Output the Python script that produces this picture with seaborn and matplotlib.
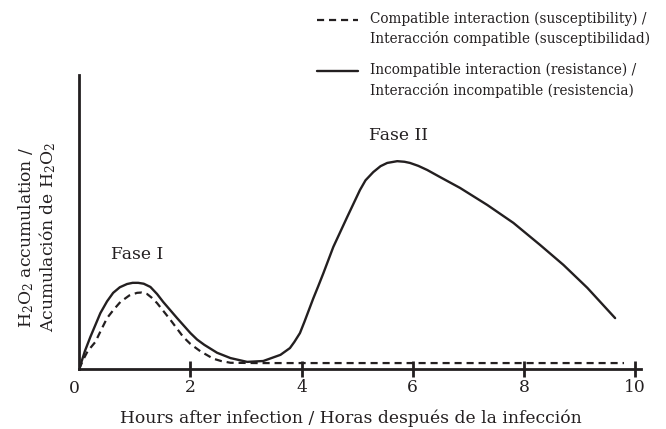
import numpy as np
import pandas as pd
import seaborn as sns
import matplotlib.pyplot as plt

# (hours, relative H2O2 level)
hours_res = [0.0, 0.10, 0.20, 0.38, 0.50, 0.61, 0.73, 0.86, 0.96, 1.06, 1.16, 1.28, 1.40,
             1.51, 1.76, 2.00, 2.12, 2.25, 2.48, 2.72, 3.02, 3.31, 3.62, 3.79, 3.87, 3.97,
             4.05, 4.12, 4.21, 4.30, 4.39, 4.57, 4.82, 5.05, 5.15, 5.29, 5.42, 5.54, 5.72,
             5.85, 5.95, 6.10, 6.26, 6.49, 6.85, 7.34, 7.81, 8.29, 8.71, 9.14, 9.64]
h2o2_res = [0.0, 0.60, 1.09, 1.90, 2.30, 2.59, 2.78, 2.89, 2.93, 2.93, 2.90, 2.79, 2.55,
            2.28, 1.73, 1.22, 1.00, 0.82, 0.55, 0.37, 0.24, 0.27, 0.48, 0.71, 0.92, 1.22,
            1.60, 1.95, 2.40, 2.82, 3.25, 4.15, 5.17, 6.09, 6.42, 6.70, 6.90, 7.01, 7.07,
            7.05, 7.01, 6.91, 6.77, 6.53, 6.16, 5.58, 4.97, 4.22, 3.54, 2.76, 1.73]

hours_sus = [0.0, 0.07, 0.15, 0.29, 0.40, 0.50, 0.62, 0.74, 0.90, 1.04, 1.12, 1.22, 1.30,
             1.40, 1.64, 1.87, 2.00, 2.18, 2.41, 2.55, 2.72, 3.20, 4.00, 5.00, 6.00, 7.00,
             8.00, 9.00, 9.80]
h2o2_sus = [0.0, 0.31, 0.60, 0.92, 1.35, 1.73, 2.02, 2.28, 2.50, 2.59, 2.60, 2.55, 2.43,
            2.24, 1.67, 1.09, 0.85, 0.60, 0.35, 0.27, 0.21, 0.20, 0.20, 0.20, 0.20, 0.20,
            0.20, 0.20, 0.20]

xticks = [2, 4, 6, 8, 10]
label_sus = "Compatible interaction (susceptibility) /\nInteracción compatible (susceptibilidad)"
label_res = "Incompatible interaction (resistance) /\nInteracción incompatible (resistencia)"

sns.set_style("white")
plt.rcParams['font.family'] = ['DejaVu Serif']
plt.rcParams['mathtext.fontset'] = 'dejavuserif'
plt.rcParams['mathtext.default'] = 'regular'
ink = '#231f20'
fs = 12.3

fig = plt.figure(figsize=(6.66, 4.29), dpi=100)
ax = fig.add_axes([0.119, 0.140, 0.843, 0.685])

sns.lineplot(x=hours_sus, y=h2o2_sus, ax=ax, color=ink, lw=1.6, linestyle='--', label=label_sus)
sns.lineplot(x=hours_res, y=h2o2_res, ax=ax, color=ink, lw=1.7, label=label_res)
ax.lines[0].set_dashes([3.2, 2.2])

ax.set_xlim(0, 10.1)
ax.set_ylim(0, 10)
sns.despine(ax=ax)
for s in ['left', 'bottom']:
    ax.spines[s].set_linewidth(2.0)
    ax.spines[s].set_color(ink)

ax.set_xticks(xticks)
ax.set_xticklabels([str(t) for t in xticks], fontsize=fs, color=ink)
ax.set_yticks([])
ax.tick_params(axis='x', direction='inout', length=12, width=2.0, color=ink, pad=1, bottom=True)
ax.text(-0.08, -0.38, "0", ha='center', va='top', fontsize=fs, color=ink)

ax.set_xlabel("Hours after infection / Horas después de la infección", fontsize=fs, color=ink,
              labelpad=10, x=0.483)
ax.set_ylabel("H$_2$O$_2$ accumulation /\nAcumulación de H$_2$O$_2$", fontsize=fs, color=ink,
              linespacing=1.1, labelpad=15, y=0.449)

ax.text(1.05, 3.9, "Fase I", ha='center', va='center', fontsize=fs, color=ink)
ax.text(5.75, 7.95, "Fase II", ha='center', va='center', fontsize=fs, color=ink)

fs_leg = 9.8
ls_leg = 1.45
leg = ax.legend(loc='upper left', bbox_to_anchor=(0.462, 0.995), bbox_transform=fig.transFigure,
                frameon=False, prop={'size': fs_leg}, handlelength=3.0, handletextpad=0.85,
                labelspacing=1.2, borderpad=0.2)
for t in leg.get_texts():
    t.set_color(ink)
    t.set_linespacing(ls_leg)
# put each key line next to the first text line, as in the reference
for h in leg.legend_handles:
    h.set_ydata(np.asarray(h.get_ydata()) + 0.5 * fs_leg * ls_leg)

fig.savefig("out.png", dpi=100)
